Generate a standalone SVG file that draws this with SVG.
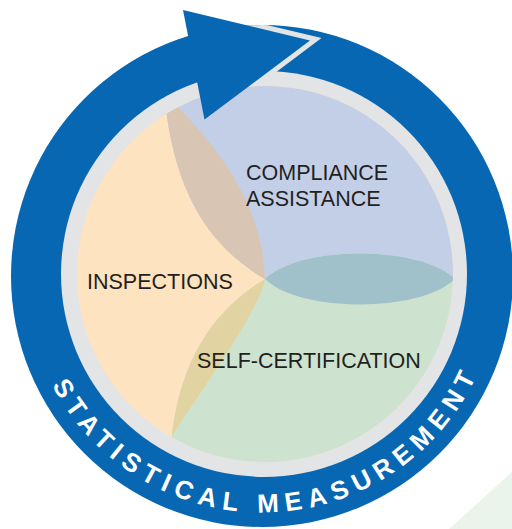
<svg xmlns="http://www.w3.org/2000/svg" width="512" height="529" viewBox="0 0 512 529">
  <defs>
    <style>
      .lbl { font-family: "Liberation Sans", Arial, sans-serif; font-size: 21.5px; fill: #231f20; }
      .ringtxt { font-family: "Liberation Sans", Arial, sans-serif; font-size: 26px; font-weight: bold; fill: #ffffff; letter-spacing: 6.8px; }
    </style>
    <clipPath id="outerClip"><circle cx="262" cy="276" r="251"/></clipPath>
    <clipPath id="innerClip"><circle cx="265" cy="274" r="188"/></clipPath>
    <path id="textArc" d="M 29.1 317.1 A 236.5 236.5 0 0 0 494.9 317.1"/>
  </defs>
  <rect width="512" height="529" fill="#ffffff"/>
  <polygon points="449,529 512,472 512,529" fill="#eaf4eb"/>

  <g id="ring">
    <circle cx="262" cy="276" r="251" fill="#0767b3"/>
    <polyline points="183,10 310,40.5 204.5,119.5" fill="none" stroke="#e2e4e6" stroke-width="10" stroke-linejoin="miter" stroke-miterlimit="4" clip-path="url(#outerClip)"/>
    <circle cx="264" cy="274" r="203" fill="#e2e4e6"/>
  </g>

  <g clip-path="url(#innerClip)">
    <g id="inspections">
      <rect x="60" y="60" width="420" height="420" fill="#fde3bf"/>
    </g>
    <g id="compliance-assistance">
      <path d="M 265 279 C 215 250 175 200 165 100 L 160 60 L 480 60 L 480 279 L 455 279 C 420 313 300 313 265 279 Z" fill="#c3cfe7"/>
    </g>
    <g id="self-certification">
      <path d="M 265 279 C 300 245 420 245 455 279 L 480 279 L 480 480 L 170 480 L 170 460 C 175 360 215 310 265 279 Z" fill="#cde3cf"/>
    </g>
    <path id="lens-inspections-compliance" d="M 265 279 C 215 250 175 200 165 100 L 150 80 C 215 140 262 200 265 279 Z" fill="#d9c5b3"/>
    <path id="lens-inspections-selfcert" d="M 265 279 C 258 315 200 390 160 455 L 170 460 C 175 360 215 310 265 279 Z" fill="#e2d3a2"/>
    <path id="lens-compliance-selfcert" d="M 265 279 C 300 245 420 245 455 279 C 420 313 300 313 265 279 Z" fill="#a0c1ca"/>
  </g>

  <g id="connectors">
    <polygon id="arrowhead" points="183,10 310,40.5 204.5,119.5" fill="#0767b3"/>
  </g>

  <g id="labels">
    <text class="lbl" x="246" y="180">COMPLIANCE</text>
    <text class="lbl" x="246" y="206">ASSISTANCE</text>
    <text class="lbl" x="87" y="289">INSPECTIONS</text>
    <text class="lbl" x="197" y="368">SELF-CERTIFICATION</text>
  </g>

  <g id="label-statistical-measurement">
    <text class="ringtxt"><textPath href="#textArc" startOffset="72">STATISTICAL MEASUREMENT</textPath></text>
  </g>
</svg>
